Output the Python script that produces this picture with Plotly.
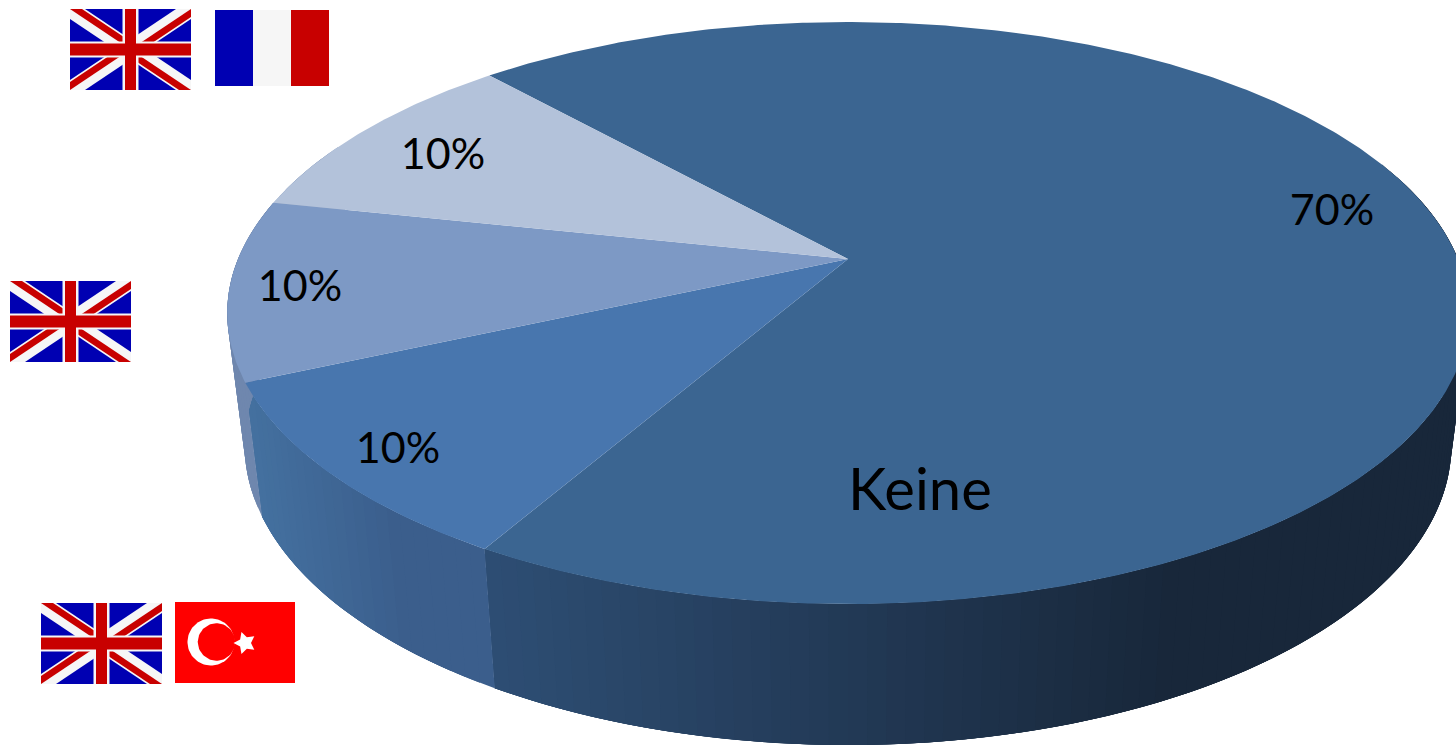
import numpy as np
import plotly.graph_objects as go

# --- data ---
slice_names = ["Keine", "Englisch + Türkisch", "Englisch", "Englisch + Französisch"]
slice_values = [70, 10, 10, 10]
top_colors = ["#3b6591", "#4876ae", "#7d99c5", "#b3c2da"]
wall_from = ["#2e4e74", "#44709f", "#6f87ae", "#8fa2c2"]
wall_to = ["#18273a", "#3b5e8c", "#6f87ae", "#8fa2c2"]
center_labels = ["Keine"]

# --- projection of the round pie to the picture ---
CX, CY = 848.0, 259.0
A, B, K = 281.0, 610.0, 0.1856
START = 318.0


def top_point(deg, r=1.0):
    t = np.radians(deg)
    X, Y = r * np.sin(t), r * np.cos(t)
    w = 1 + K * Y
    return CX + B * X / w, CY - A * Y / w


def bottom_point(deg):
    x, y = top_point(deg)
    return x + (848 - x) * 0.028, y + 134 + (y - 382) * 0.0315


def hex2rgb(h):
    return np.array([int(h[i:i + 2], 16) for i in (1, 3, 5)], float)


def mix(a, b, f):
    c = hex2rgb(a) * (1 - f) + hex2rgb(b) * f
    return "rgb(%d,%d,%d)" % tuple(c)


fig = go.Figure()


def poly(xs, ys, color):
    fig.add_trace(go.Scatter(
        x=list(xs), y=list(ys), mode="lines", fill="toself", fillcolor=color,
        line=dict(color=color, width=0), hoverinfo="skip", showlegend=False))


# slice angle spans from the values
total = sum(slice_values)
spans = []
a = START
for v in slice_values:
    spans.append((a, a + 360 * v / total))
    a += 360 * v / total

# side walls: each strip reaches past its own end, so later strips paint over
# earlier ones and no seams are left between them
STEP = 1.5
for (a0, a1), c0, c1 in zip(spans, wall_from, wall_to):
    n = max(2, int((a1 - a0) / STEP))
    edges = np.linspace(a0, a1, n + 1)
    for e0, e1 in zip(edges[:-1], edges[1:]):
        mid = (e0 + e1) / 2
        if np.cos(np.radians(mid)) > 0.35:
            continue
        tail = np.linspace(e0, min(e1 + 3 * STEP, a1), 6)
        tp = [top_point(t) for t in tail]
        bp = [bottom_point(t) for t in tail][::-1]
        xm = top_point(mid)[0]
        if c0 == "#2e4e74":
            f = np.clip((xm - 490) / (1180 - 490), 0, 1)
        elif c0 == "#44709f":
            f = np.clip((xm - 255) / (400 - 255), 0, 1)
        else:
            f = 0
        poly([p[0] for p in tp + bp], [p[1] for p in tp + bp], mix(c0, c1, f))

# top faces
for (a0, a1), col in zip(spans, top_colors):
    th = np.linspace(a0, a1, int(a1 - a0) * 2 + 2)
    pts = [top_point(t) for t in th]
    poly([CX] + [p[0] for p in pts], [CY] + [p[1] for p in pts], col)


# --- flags ---
BLUE, RED, WHITE = "#0000b2", "#c80000", "#f6f6f6"


def rect(x0, y0, x1, y1, c):
    poly([x0, x1, x1, x0], [y0, y0, y1, y1], c)


def union_jack(x0, y0):
    x1, y1 = x0 + 121, y0 + 81
    xc, yc = (x0 + x1) / 2, (y0 + y1) / 2
    rect(x0, y0, x1, y1, BLUE)
    wa, wb = 15, 10
    poly([x0, x0 + wa, x1, x1, x1 - wa, x0], [y0, y0, y1 - wb, y1, y1, y0 + wb], WHITE)
    poly([x1, x1, x0 + wa, x0, x0, x1 - wa], [y0, y0 + wb, y1, y1, y1 - wb, y0], WHITE)
    ra, rb = 12, 8
    poly([x0, x0 + ra, xc + ra, xc], [y0, y0, yc, yc], RED)
    poly([x1, x1, xc, xc], [y0, y0 + rb, yc + rb, yc], RED)
    poly([x1, x1 - ra, xc - ra, xc], [y1, y1, yc, yc], RED)
    poly([x0, x0, xc, xc], [y1, y1 - rb, yc - rb, yc], RED)
    rect(x0, yc - 8, x1, yc + 8, WHITE)
    rect(xc - 8, y0, xc + 8, y1, WHITE)
    rect(x0, yc - 6, x1, yc + 6, RED)
    rect(xc - 5.5, y0, xc + 5.5, y1, RED)


def disc(x, y, r, c):
    t = np.linspace(0, 2 * np.pi, 80)
    poly(x + r * np.cos(t), y + r * np.sin(t), c)


union_jack(70, 9)
union_jack(10, 281)
union_jack(41, 603)
rect(215, 10, 253, 86, BLUE)
rect(253, 10, 291, 86, WHITE)
rect(291, 10, 329, 86, RED)
rect(175, 602, 295, 683, "#ff0000")
disc(211, 642, 23.5, "#ffffff")
disc(216.5, 642, 18.7, "#ff0000")
sa = np.radians(np.arange(0, 361, 36) + 180)
sr = np.where(np.arange(11) % 2 == 0, 11.5, 6)
poly(245 + sr * np.cos(sa), 643 + sr * np.sin(sa), "#ffffff")

# --- labels ---
label_font = "Lato, Carlito, Calibri, sans-serif"
fig.add_trace(go.Scatter(
    x=[1332, 398, 300, 443], y=[214, 452, 290, 158], mode="text",
    text=[f"{v}%" for v in slice_values], textposition="middle center",
    textfont=dict(family=label_font, size=43, color="#000000"),
    hoverinfo="skip", showlegend=False))
fig.add_trace(go.Scatter(
    x=[920], y=[495], mode="text", text=center_labels, textposition="middle center",
    textfont=dict(family=label_font, size=58, color="#000000"),
    hoverinfo="skip", showlegend=False))

fig.update_layout(
    width=1456, height=746, margin=dict(l=0, r=0, t=0, b=0),
    paper_bgcolor="#ffffff", plot_bgcolor="#ffffff", showlegend=False,
    xaxis=dict(range=[0, 1456], visible=False, fixedrange=True),
    yaxis=dict(range=[746, 0], visible=False, fixedrange=True),
)
fig.write_html("out.html", config={"displayModeBar": False},
               post_script="document.body.style.margin='0';document.body.style.overflow='hidden';")
